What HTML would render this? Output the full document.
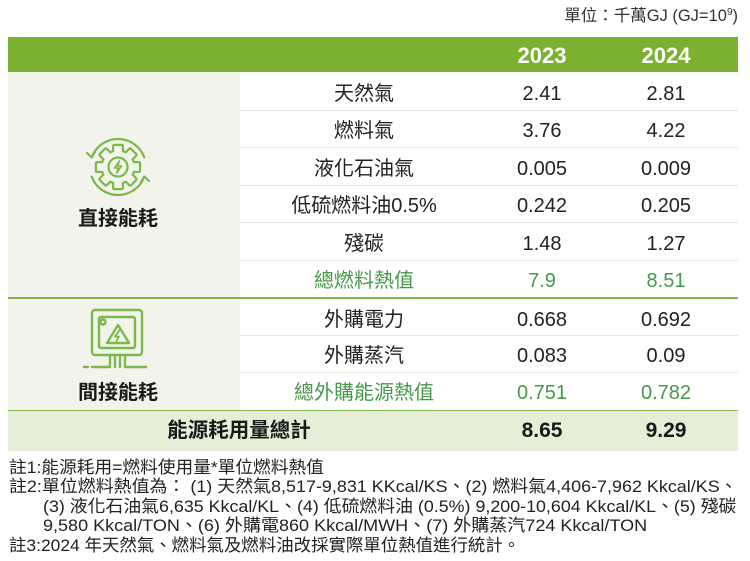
<!DOCTYPE html>
<html>
<head>
<meta charset="utf-8">
<style>
  html,body{margin:0;padding:0;background:#fff;}
  body{width:750px;height:561px;position:relative;overflow:hidden;
    font-family:"Liberation Sans","Noto Sans CJK TC",sans-serif;color:#222;}
  .a{position:absolute;}
  .c{position:absolute;text-align:center;white-space:nowrap;}
  .row{height:37.5px;line-height:37.5px;font-size:20px;}
  .g{color:#46994b;}
  .sep{position:absolute;left:240px;width:498px;height:1px;background:#e4e7de;}
  .gl{position:absolute;left:8px;width:730px;height:1.5px;background:#82b546;}
  .note{position:absolute;white-space:nowrap;font-size:17px;line-height:19.5px;color:#222;transform-origin:left center;}
</style>
</head>
<body>

<!-- unit -->
<div class="a" style="right:12px;top:5px;font-size:16.5px;line-height:22px;color:#333;white-space:nowrap;">單位：千萬GJ (GJ=10<sup style="font-size:10px;vertical-align:6px;line-height:0;">9</sup>)</div>

<!-- header -->
<div class="a" style="left:8px;top:37px;width:730px;height:35px;background:#7ab22f;"></div>
<div class="c" style="left:482px;width:120px;top:38px;height:35px;line-height:35px;font-size:22px;font-weight:bold;color:#fff;">2023</div>
<div class="c" style="left:606px;width:120px;top:38px;height:35px;line-height:35px;font-size:22px;font-weight:bold;color:#fff;">2024</div>

<!-- left column background -->
<div class="a" style="left:8px;top:72px;width:232px;height:338px;background:#f2f4ec;"></div>

<!-- separators -->
<div class="sep" style="top:110px;"></div>
<div class="sep" style="top:147px;"></div>
<div class="sep" style="top:185px;"></div>
<div class="sep" style="top:222px;"></div>
<div class="sep" style="top:260px;"></div>
<div class="gl" style="top:297px;"></div>
<div class="sep" style="top:335px;"></div>
<div class="sep" style="top:372px;"></div>

<!-- total row -->
<div class="a" style="left:8px;top:410px;width:730px;height:41px;background:#e5efd8;"></div>
<div class="gl" style="top:409.5px;"></div>

<!-- direct rows -->
<div class="c row" style="left:240px;width:248px;top:76px;">天然氣</div>
<div class="c row" style="left:482px;width:120px;top:76px;">2.41</div>
<div class="c row" style="left:606px;width:120px;top:76px;">2.81</div>

<div class="c row" style="left:240px;width:248px;top:113px;">燃料氣</div>
<div class="c row" style="left:482px;width:120px;top:113px;">3.76</div>
<div class="c row" style="left:606px;width:120px;top:113px;">4.22</div>

<div class="c row" style="left:240px;width:248px;top:150.5px;">液化石油氣</div>
<div class="c row" style="left:482px;width:120px;top:150.5px;">0.005</div>
<div class="c row" style="left:606px;width:120px;top:150.5px;">0.009</div>

<div class="c row" style="left:240px;width:248px;top:188px;">低硫燃料油0.5%</div>
<div class="c row" style="left:482px;width:120px;top:188px;">0.242</div>
<div class="c row" style="left:606px;width:120px;top:188px;">0.205</div>

<div class="c row" style="left:240px;width:248px;top:225.5px;">殘碳</div>
<div class="c row" style="left:482px;width:120px;top:225.5px;">1.48</div>
<div class="c row" style="left:606px;width:120px;top:225.5px;">1.27</div>

<div class="c row g" style="left:240px;width:248px;top:263px;">總燃料熱值</div>
<div class="c row g" style="left:482px;width:120px;top:263px;">7.9</div>
<div class="c row g" style="left:606px;width:120px;top:263px;">8.51</div>

<!-- indirect rows -->
<div class="c row" style="left:240px;width:248px;top:301.5px;">外購電力</div>
<div class="c row" style="left:482px;width:120px;top:301.5px;">0.668</div>
<div class="c row" style="left:606px;width:120px;top:301.5px;">0.692</div>

<div class="c row" style="left:240px;width:248px;top:338px;">外購蒸汽</div>
<div class="c row" style="left:482px;width:120px;top:338px;">0.083</div>
<div class="c row" style="left:606px;width:120px;top:338px;">0.09</div>

<div class="c row g" style="left:240px;width:248px;top:375px;">總外購能源熱值</div>
<div class="c row g" style="left:482px;width:120px;top:375px;">0.751</div>
<div class="c row g" style="left:606px;width:120px;top:375px;">0.782</div>

<!-- total -->
<div class="c" style="left:6px;width:466px;top:411px;height:40px;line-height:40px;font-size:20.5px;font-weight:bold;color:#1a1a1a;">能源耗用量總計</div>
<div class="c" style="left:482px;width:120px;top:411px;height:40px;line-height:40px;font-size:21px;font-weight:bold;color:#1a1a1a;">8.65</div>
<div class="c" style="left:606px;width:120px;top:411px;height:40px;line-height:40px;font-size:21px;font-weight:bold;color:#1a1a1a;">9.29</div>

<!-- left labels -->
<div class="c" style="left:8px;width:220px;top:206px;line-height:26px;font-size:20px;font-weight:bold;color:#1a1a1a;">直接能耗</div>
<div class="c" style="left:8px;width:220px;top:380px;line-height:26px;font-size:20px;font-weight:bold;color:#1a1a1a;">間接能耗</div>

<!-- gear icon -->
<svg class="a" style="left:80px;top:129px;" width="76" height="76" viewBox="0 0 76 76">
  <g fill="none" stroke="#7cb84a" stroke-width="2.2" stroke-linecap="round" stroke-linejoin="round">
    <path d="M11.69,28.42 A28,28 0 0 1 64.31,28.42"/>
    <path d="M64.31,47.58 A28,28 0 0 1 11.69,47.58"/>
    <path d="M7,24 L11.69,28.42 L15,23"/>
    <path d="M69,52 L64.31,47.58 L61,53"/>
  </g>
  <g transform="translate(38,38)">
    <g fill="#7cb84a" stroke="#7cb84a" stroke-width="4.4" stroke-linejoin="round">
      <circle r="15.5"/>
      <rect x="-3.8" y="-21" width="7.6" height="8" transform="rotate(0)"/>
      <rect x="-3.8" y="-21" width="7.6" height="8" transform="rotate(45)"/>
      <rect x="-3.8" y="-21" width="7.6" height="8" transform="rotate(90)"/>
      <rect x="-3.8" y="-21" width="7.6" height="8" transform="rotate(135)"/>
      <rect x="-3.8" y="-21" width="7.6" height="8" transform="rotate(180)"/>
      <rect x="-3.8" y="-21" width="7.6" height="8" transform="rotate(225)"/>
      <rect x="-3.8" y="-21" width="7.6" height="8" transform="rotate(270)"/>
      <rect x="-3.8" y="-21" width="7.6" height="8" transform="rotate(315)"/>
    </g>
    <g fill="#f2f4ec" stroke="none">
      <circle r="15.5"/>
      <rect x="-3.8" y="-21" width="7.6" height="8" transform="rotate(0)"/>
      <rect x="-3.8" y="-21" width="7.6" height="8" transform="rotate(45)"/>
      <rect x="-3.8" y="-21" width="7.6" height="8" transform="rotate(90)"/>
      <rect x="-3.8" y="-21" width="7.6" height="8" transform="rotate(135)"/>
      <rect x="-3.8" y="-21" width="7.6" height="8" transform="rotate(180)"/>
      <rect x="-3.8" y="-21" width="7.6" height="8" transform="rotate(225)"/>
      <rect x="-3.8" y="-21" width="7.6" height="8" transform="rotate(270)"/>
      <rect x="-3.8" y="-21" width="7.6" height="8" transform="rotate(315)"/>
    </g>
    <circle r="9.5" fill="none" stroke="#7cb84a" stroke-width="2.2"/>
    <path d="M1.5,-6 L-3.5,1 L0.5,1 L-1.5,6 L3.5,-1 L-0.5,-1 Z" fill="none" stroke="#7cb84a" stroke-width="1.6" stroke-linejoin="round"/>
  </g>
</svg>

<!-- electric box icon -->
<svg class="a" style="left:80px;top:305px;" width="76" height="68" viewBox="0 0 76 68">
  <g fill="none" stroke="#7cb84a" stroke-width="2.4" stroke-linecap="round" stroke-linejoin="round">
    <rect x="12" y="5" width="50" height="45" rx="3"/>
    <rect x="19" y="12" width="36" height="31" rx="2"/>
    <circle cx="23" cy="17" r="2.5"/>
    <path d="M38,20 L49,38 L27,38 Z"/>
    <path d="M39.5,25 L35,31.5 L39,31.5 L36.5,36" stroke-width="1.8"/>
    <path d="M30,50 V62 H12"/>
    <path d="M35,50 V62"/>
    <path d="M40,50 V62"/>
    <path d="M45,50 V62 H66"/>
    <path d="M4,62 H8"/>
  </g>
</svg>

<!-- notes -->
<div class="note" style="left:9px;top:457.5px;transform:scaleX(1.04);">註1:能源耗用=燃料使用量*單位燃料熱值</div>
<div class="note" style="left:9px;top:477px;transform:scaleX(1.055);">註2:單位燃料熱值為： (1) 天然氣8,517-9,831 KKcal/KS、(2) 燃料氣4,406-7,962 Kkcal/KS、</div>
<div class="note" style="left:43px;top:496.5px;transform:scaleX(1.05);">(3) 液化石油氣6,635 Kkcal/KL、(4) 低硫燃料油 (0.5%) 9,200-10,604 Kkcal/KL、(5) 殘碳</div>
<div class="note" style="left:43px;top:516px;transform:scaleX(1.06);">9,580 Kkcal/TON、(6) 外購電860 Kkcal/MWH、(7) 外購蒸汽724 Kkcal/TON</div>
<div class="note" style="left:9px;top:535.5px;transform:scaleX(1.025);">註3:2024 年天然氣、燃料氣及燃料油改採實際單位熱值進行統計。</div>

</body>
</html>
